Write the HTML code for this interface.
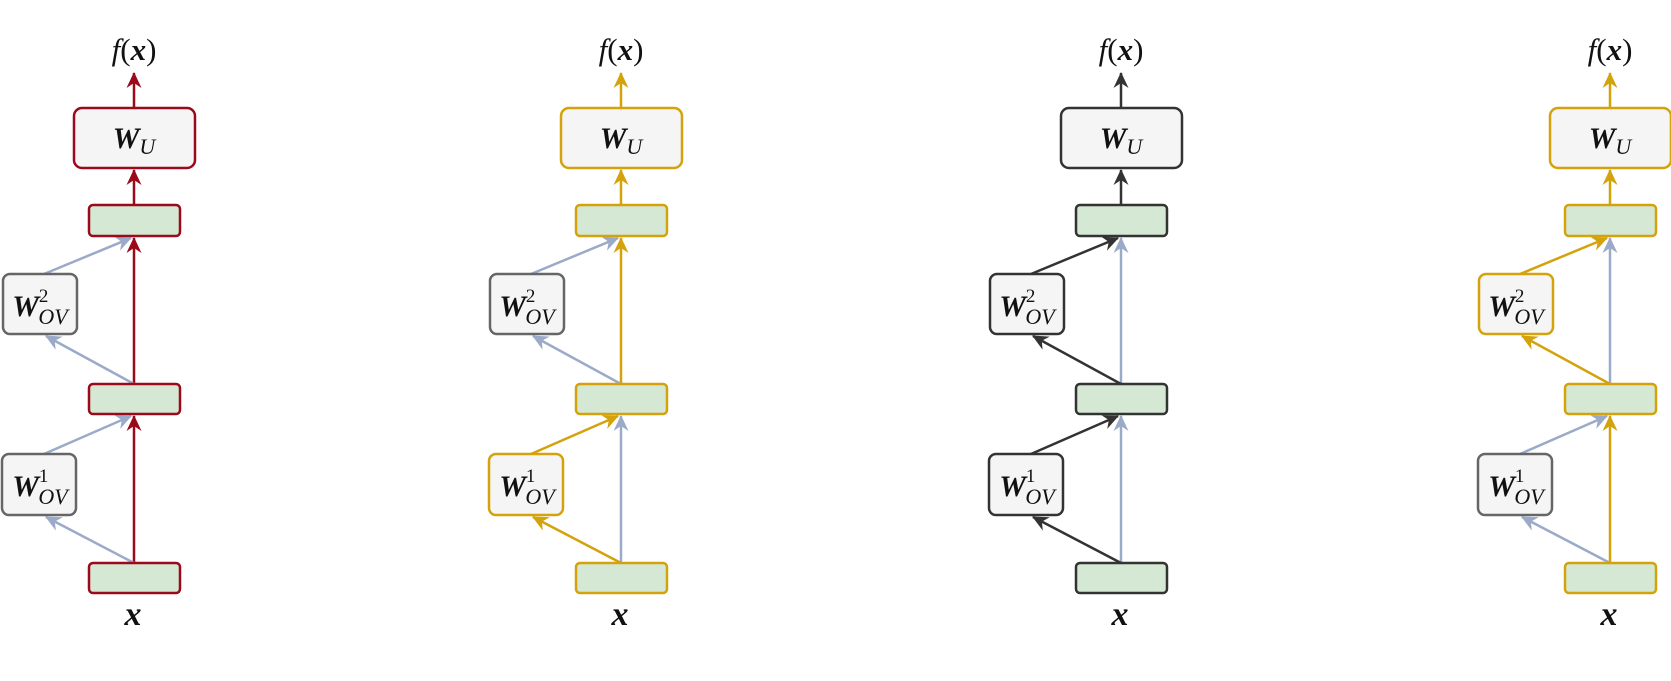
<!DOCTYPE html>
<html><head><meta charset="utf-8"><style>
html,body{margin:0;padding:0;background:#fff;}
svg{display:block;}
text{font-family:"Liberation Serif",serif;fill:#111;}
.b{font-weight:bold;font-style:italic;}
.i{font-style:italic;}
</style></head><body>
<svg width="1671" height="681" viewBox="0 0 1671 681" xmlns="http://www.w3.org/2000/svg">
<defs>
<marker id="mr" markerUnits="userSpaceOnUse" markerWidth="18" markerHeight="18" refX="15" refY="9" orient="auto"><path d="M0,1.5 L16,9 L0,16.5 L5,9 z" fill="#9B0A1A"/></marker>
<marker id="mg" markerUnits="userSpaceOnUse" markerWidth="18" markerHeight="18" refX="15" refY="9" orient="auto"><path d="M0,1.5 L16,9 L0,16.5 L5,9 z" fill="#D4A20B"/></marker>
<marker id="md" markerUnits="userSpaceOnUse" markerWidth="18" markerHeight="18" refX="15" refY="9" orient="auto"><path d="M0,1.5 L16,9 L0,16.5 L5,9 z" fill="#333"/></marker>
<marker id="mb" markerUnits="userSpaceOnUse" markerWidth="18" markerHeight="18" refX="15" refY="9" orient="auto"><path d="M0,1.5 L16,9 L0,16.5 L5,9 z" fill="#9AAAC8"/></marker>
</defs>

<g transform="translate(134,0)" stroke-width="2.5" fill="none">
<line x1="0" y1="108" x2="0" y2="73" stroke="#9B0A1A" marker-end="url(#mr)"/>
<line x1="0" y1="205" x2="0" y2="170" stroke="#9B0A1A" marker-end="url(#mr)"/>
<line x1="0" y1="384" x2="0" y2="238" stroke="#9B0A1A" marker-end="url(#mr)"/>
<line x1="0" y1="563" x2="0" y2="416" stroke="#9B0A1A" marker-end="url(#mr)"/>
<line x1="0" y1="384" x2="-88" y2="336" stroke="#9AAAC8" marker-end="url(#mb)"/>
<line x1="-90" y1="274" x2="-3" y2="238" stroke="#9AAAC8" marker-end="url(#mb)"/>
<line x1="0" y1="563" x2="-88" y2="517" stroke="#9AAAC8" marker-end="url(#mb)"/>
<line x1="-90" y1="454" x2="-3" y2="416" stroke="#9AAAC8" marker-end="url(#mb)"/>
<rect x="-60" y="108" width="121" height="60" rx="8" fill="#f5f5f5" stroke="#9B0A1A"/>
<rect x="-45" y="205" width="91" height="31" rx="4" fill="#d5e8d4" stroke="#9B0A1A"/>
<rect x="-45" y="384" width="91" height="30" rx="4" fill="#d5e8d4" stroke="#9B0A1A"/>
<rect x="-45" y="563" width="91" height="30" rx="4" fill="#d5e8d4" stroke="#9B0A1A"/>
<rect x="-131" y="274" width="74" height="60" rx="7" fill="#f5f5f5" stroke="#666"/>
<rect x="-132" y="454" width="74" height="61" rx="7" fill="#f5f5f5" stroke="#666"/>
</g>

<g transform="translate(621,0)" stroke-width="2.5" fill="none">
<line x1="0" y1="108" x2="0" y2="73" stroke="#D4A20B" marker-end="url(#mg)"/>
<line x1="0" y1="205" x2="0" y2="170" stroke="#D4A20B" marker-end="url(#mg)"/>
<line x1="0" y1="384" x2="0" y2="238" stroke="#D4A20B" marker-end="url(#mg)"/>
<line x1="0" y1="563" x2="0" y2="416" stroke="#9AAAC8" marker-end="url(#mb)"/>
<line x1="0" y1="384" x2="-88" y2="336" stroke="#9AAAC8" marker-end="url(#mb)"/>
<line x1="-90" y1="274" x2="-3" y2="238" stroke="#9AAAC8" marker-end="url(#mb)"/>
<line x1="0" y1="563" x2="-88" y2="517" stroke="#D4A20B" marker-end="url(#mg)"/>
<line x1="-90" y1="454" x2="-3" y2="416" stroke="#D4A20B" marker-end="url(#mg)"/>
<rect x="-60" y="108" width="121" height="60" rx="8" fill="#f5f5f5" stroke="#D4A20B"/>
<rect x="-45" y="205" width="91" height="31" rx="4" fill="#d5e8d4" stroke="#D4A20B"/>
<rect x="-45" y="384" width="91" height="30" rx="4" fill="#d5e8d4" stroke="#D4A20B"/>
<rect x="-45" y="563" width="91" height="30" rx="4" fill="#d5e8d4" stroke="#D4A20B"/>
<rect x="-131" y="274" width="74" height="60" rx="7" fill="#f5f5f5" stroke="#666"/>
<rect x="-132" y="454" width="74" height="61" rx="7" fill="#f5f5f5" stroke="#D4A20B"/>
</g>

<g transform="translate(1121,0)" stroke-width="2.5" fill="none">
<line x1="0" y1="108" x2="0" y2="73" stroke="#333" marker-end="url(#md)"/>
<line x1="0" y1="205" x2="0" y2="170" stroke="#333" marker-end="url(#md)"/>
<line x1="0" y1="384" x2="0" y2="238" stroke="#9AAAC8" marker-end="url(#mb)"/>
<line x1="0" y1="563" x2="0" y2="416" stroke="#9AAAC8" marker-end="url(#mb)"/>
<line x1="0" y1="384" x2="-88" y2="336" stroke="#333" marker-end="url(#md)"/>
<line x1="-90" y1="274" x2="-3" y2="238" stroke="#333" marker-end="url(#md)"/>
<line x1="0" y1="563" x2="-88" y2="517" stroke="#333" marker-end="url(#md)"/>
<line x1="-90" y1="454" x2="-3" y2="416" stroke="#333" marker-end="url(#md)"/>
<rect x="-60" y="108" width="121" height="60" rx="8" fill="#f5f5f5" stroke="#333"/>
<rect x="-45" y="205" width="91" height="31" rx="4" fill="#d5e8d4" stroke="#333"/>
<rect x="-45" y="384" width="91" height="30" rx="4" fill="#d5e8d4" stroke="#333"/>
<rect x="-45" y="563" width="91" height="30" rx="4" fill="#d5e8d4" stroke="#333"/>
<rect x="-131" y="274" width="74" height="60" rx="7" fill="#f5f5f5" stroke="#333"/>
<rect x="-132" y="454" width="74" height="61" rx="7" fill="#f5f5f5" stroke="#333"/>
</g>

<g transform="translate(1610,0)" stroke-width="2.5" fill="none">
<line x1="0" y1="108" x2="0" y2="73" stroke="#D4A20B" marker-end="url(#mg)"/>
<line x1="0" y1="205" x2="0" y2="170" stroke="#D4A20B" marker-end="url(#mg)"/>
<line x1="0" y1="384" x2="0" y2="238" stroke="#9AAAC8" marker-end="url(#mb)"/>
<line x1="0" y1="563" x2="0" y2="416" stroke="#D4A20B" marker-end="url(#mg)"/>
<line x1="0" y1="384" x2="-88" y2="336" stroke="#D4A20B" marker-end="url(#mg)"/>
<line x1="-90" y1="274" x2="-3" y2="238" stroke="#D4A20B" marker-end="url(#mg)"/>
<line x1="0" y1="563" x2="-88" y2="517" stroke="#9AAAC8" marker-end="url(#mb)"/>
<line x1="-90" y1="454" x2="-3" y2="416" stroke="#9AAAC8" marker-end="url(#mb)"/>
<rect x="-60" y="108" width="121" height="60" rx="8" fill="#f5f5f5" stroke="#D4A20B"/>
<rect x="-45" y="205" width="91" height="31" rx="4" fill="#d5e8d4" stroke="#D4A20B"/>
<rect x="-45" y="384" width="91" height="30" rx="4" fill="#d5e8d4" stroke="#D4A20B"/>
<rect x="-45" y="563" width="91" height="30" rx="4" fill="#d5e8d4" stroke="#D4A20B"/>
<rect x="-131" y="274" width="74" height="60" rx="7" fill="#f5f5f5" stroke="#D4A20B"/>
<rect x="-132" y="454" width="74" height="61" rx="7" fill="#f5f5f5" stroke="#666"/>
</g>

<g>
<text x="134" y="60" font-size="31" text-anchor="middle"><tspan class="i">f</tspan>(<tspan class="b">x</tspan>)</text>
<text x="134" y="148" font-size="30" text-anchor="middle"><tspan class="b">W</tspan><tspan class="i" font-size="22" dy="6">U</tspan></text>
<text x="40" y="316" font-size="30" text-anchor="middle"><tspan class="b">W</tspan><tspan font-size="19" dy="-14">2</tspan><tspan class="i" font-size="22" dx="-10" dy="22">OV</tspan></text>
<text x="40" y="496" font-size="30" text-anchor="middle"><tspan class="b">W</tspan><tspan font-size="19" dy="-14">1</tspan><tspan class="i" font-size="22" dx="-10" dy="22">OV</tspan></text>
<text x="133" y="625" font-size="34" class="b" text-anchor="middle">x</text>

<text x="621" y="60" font-size="31" text-anchor="middle"><tspan class="i">f</tspan>(<tspan class="b">x</tspan>)</text>
<text x="621" y="148" font-size="30" text-anchor="middle"><tspan class="b">W</tspan><tspan class="i" font-size="22" dy="6">U</tspan></text>
<text x="527" y="316" font-size="30" text-anchor="middle"><tspan class="b">W</tspan><tspan font-size="19" dy="-14">2</tspan><tspan class="i" font-size="22" dx="-10" dy="22">OV</tspan></text>
<text x="527" y="496" font-size="30" text-anchor="middle"><tspan class="b">W</tspan><tspan font-size="19" dy="-14">1</tspan><tspan class="i" font-size="22" dx="-10" dy="22">OV</tspan></text>
<text x="620" y="625" font-size="34" class="b" text-anchor="middle">x</text>

<text x="1121" y="60" font-size="31" text-anchor="middle"><tspan class="i">f</tspan>(<tspan class="b">x</tspan>)</text>
<text x="1121" y="148" font-size="30" text-anchor="middle"><tspan class="b">W</tspan><tspan class="i" font-size="22" dy="6">U</tspan></text>
<text x="1027" y="316" font-size="30" text-anchor="middle"><tspan class="b">W</tspan><tspan font-size="19" dy="-14">2</tspan><tspan class="i" font-size="22" dx="-10" dy="22">OV</tspan></text>
<text x="1027" y="496" font-size="30" text-anchor="middle"><tspan class="b">W</tspan><tspan font-size="19" dy="-14">1</tspan><tspan class="i" font-size="22" dx="-10" dy="22">OV</tspan></text>
<text x="1120" y="625" font-size="34" class="b" text-anchor="middle">x</text>

<text x="1610" y="60" font-size="31" text-anchor="middle"><tspan class="i">f</tspan>(<tspan class="b">x</tspan>)</text>
<text x="1610" y="148" font-size="30" text-anchor="middle"><tspan class="b">W</tspan><tspan class="i" font-size="22" dy="6">U</tspan></text>
<text x="1516" y="316" font-size="30" text-anchor="middle"><tspan class="b">W</tspan><tspan font-size="19" dy="-14">2</tspan><tspan class="i" font-size="22" dx="-10" dy="22">OV</tspan></text>
<text x="1516" y="496" font-size="30" text-anchor="middle"><tspan class="b">W</tspan><tspan font-size="19" dy="-14">1</tspan><tspan class="i" font-size="22" dx="-10" dy="22">OV</tspan></text>
<text x="1609" y="625" font-size="34" class="b" text-anchor="middle">x</text>
</g>
</svg>
</body></html>
